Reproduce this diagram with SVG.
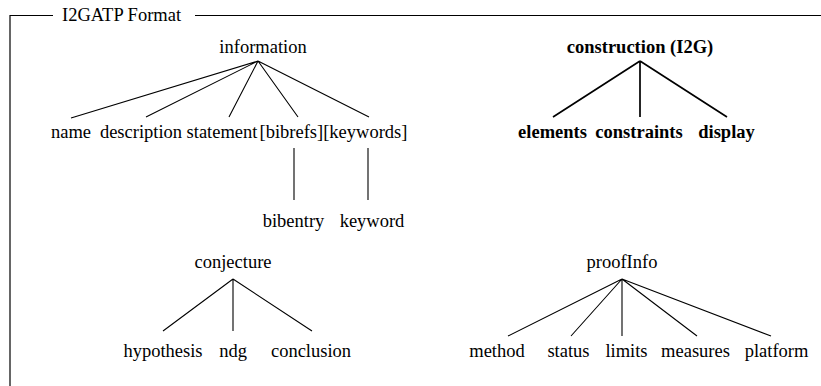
<svg xmlns="http://www.w3.org/2000/svg" width="821" height="386" viewBox="0 0 821 386">
<style>
.t{font-size:18.5px;fill:#000;text-anchor:middle}
.s{text-anchor:start}
.b{font-weight:bold}
.e{stroke:#000;stroke-width:1.1;fill:none}
.eb{stroke:#000;stroke-width:1.7;fill:none}
.frame{stroke:#000;stroke-width:1.2;fill:none}
</style>
<rect width="821" height="386" fill="#fff"/>
<g font-family="Liberation Serif, Times New Roman, serif">
<g id="frame">
<path class="frame" d="M53,15.5 H10 V386 M195,15.5 H821"/>
<text class="t s" x="62" y="21">I2GATP Format</text>
</g>
<g id="connectors">
<path class="e" d="M258,61 L71,118 M258,61 L146,117 M258,61 L229,117 M258,61 L298,117 M258,61 L369,117"/>
<path class="e" d="M294,148 V200 M368,148 V200"/>
<path class="eb" d="M640,61 L553,117 M640,61 L640,117 M640,61 L727,117"/>
<path class="e" d="M233,279 L163,331 M233,279 L233,331 M233,279 L312,331"/>
<path class="e" d="M622,279 L508,336 M622,279 L571,336 M622,279 L622,336 M622,279 L697,336 M622,279 L771,336"/>
</g>
<g id="information"><text class="t" x="263" y="53">information</text></g>
<g id="name"><text class="t" x="71" y="138">name</text></g>
<g id="description"><text class="t" x="141" y="138">description</text></g>
<g id="statement"><text class="t" x="222" y="138">statement</text></g>
<g id="bibrefs"><text class="t s" x="259.5" y="138">[bibrefs]</text></g>
<g id="keywords"><text class="t s" x="323.2" y="138">[keywords]</text></g>
<g id="bibentry"><text class="t" x="293.5" y="227">bibentry</text></g>
<g id="keyword"><text class="t" x="372" y="227">keyword</text></g>
<g id="construction"><text class="t b" x="640" y="53">construction (I2G)</text></g>
<g id="elements"><text class="t b" x="552.5" y="138">elements</text></g>
<g id="constraints"><text class="t b" x="639" y="138">constraints</text></g>
<g id="display"><text class="t b" x="726.5" y="138">display</text></g>
<g id="conjecture"><text class="t" x="233" y="268">conjecture</text></g>
<g id="hypothesis"><text class="t" x="163" y="357">hypothesis</text></g>
<g id="ndg"><text class="t" x="233" y="357">ndg</text></g>
<g id="conclusion"><text class="t" x="311" y="357">conclusion</text></g>
<g id="proofInfo"><text class="t" x="622" y="268">proofInfo</text></g>
<g id="method"><text class="t" x="497" y="357">method</text></g>
<g id="status"><text class="t" x="568.5" y="357">status</text></g>
<g id="limits"><text class="t" x="626.5" y="357">limits</text></g>
<g id="measures"><text class="t" x="695.5" y="357">measures</text></g>
<g id="platform"><text class="t" x="776.5" y="357">platform</text></g>
</g>
</svg>
